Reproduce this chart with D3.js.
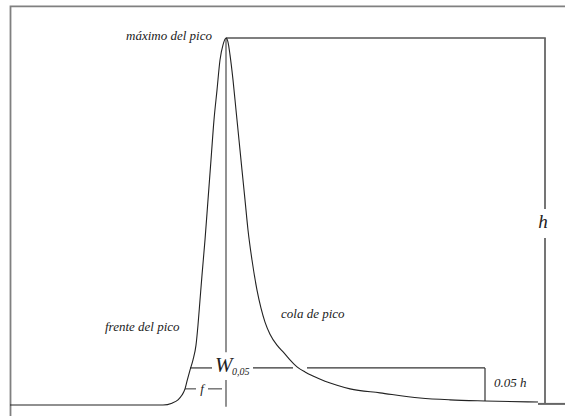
<!DOCTYPE html>
<html><head><meta charset="utf-8">
<script src="https://cdn.jsdelivr.net/npm/d3@7"></script>
<style>html,body{margin:0;padding:0;background:#fff;overflow:hidden}
.lbl{font-family:"Times New Roman",Times,"Liberation Serif","DejaVu Serif","Noto Serif",serif;font-style:italic}</style>
</head><body>
<svg id="c" width="565" height="416"></svg>
<script>
// Peak profile: time (arbitrary units) and signal (% of peak height h)
const frontTime   = [0, 153, 162, 168, 172, 175, 177, 180, 183, 186, 188, 190, 192, 195, 198, 201, 204, 207, 210, 213, 216];
const frontSignal = [0, 0, 0.5, 1.4, 2.7, 4.4, 6.5, 9.5, 12.3, 16.3, 21.8, 28.6, 35.4, 45.0, 55.9, 66.8, 77.7, 85.8, 94.0, 98.1, 100];
const tailTime    = [218, 220, 223, 226, 229, 232, 235, 238, 242, 247, 251, 255, 260, 267, 274, 280, 287, 295, 303, 315, 327, 340, 370, 410, 440, 475, 528];
const tailSignal  = [98.9, 95.4, 88.6, 80.4, 72.2, 64.0, 55.9, 47.7, 39.5, 31.3, 26.4, 22.6, 19.3, 16.3, 14.2, 12.3, 10.4, 9.0, 7.9, 6.5, 5.4, 4.4, 3.3, 1.9, 1.4, 1.1, 0.8];

// Annotation levels / positions (data units)
const peakTime = 216, peakHeight = 100;
const wLevel = 10.1, fLevel = 4.4;
const wRightTime = 475, hLineTime = 535;
const wSegments = [[180, 202], [243, 283], [297, 475]];
const fSegments = [[175, 186], [198, 212]];
const centerSegments = [[100, 14.4], [6.8, -0.5]];
const hSegments = [[100, 53.4], [45.5, 0.3]];
const labels = ["máximo del pico", "frente del pico", "cola de pico", "0.05 h", "h", "W", "0,05", "f"];

const svg = d3.select("#c");
const x = d3.scaleLinear().domain([0, 555]).range([10, 565]);
const y = d3.scaleLinear().domain([0, 100]).range([405, 38]);

// frame
svg.append("path")
  .attr("d", `M${x(0.5)},416 L${x(0.5)},${y(108.6)} L565,${y(108.6)}`)
  .attr("fill", "none").attr("stroke", "#808080").attr("stroke-width", 1.8);

const seg = (x1, y1, x2, y2, color, w) => svg.append("line")
  .attr("x1", x1).attr("y1", y1).attr("x2", x2).attr("y2", y2)
  .attr("stroke", color).attr("stroke-width", w);

// center vertical line
centerSegments.forEach(s => seg(x(peakTime), y(s[0]), x(peakTime), y(s[1]), "#777", 1.6));
// top horizontal
seg(x(peakTime), y(peakHeight), x(hLineTime) + 0.8, y(peakHeight), "#555", 1.5);
// h vertical
hSegments.forEach(s => seg(x(hLineTime), y(s[0]), x(hLineTime), y(s[1]), "#666", 1.8));
// bottom right base
seg(x(528), y(0.3), 565, y(0.3), "#666", 2);
// W line
wSegments.forEach(s => seg(x(s[0]), y(wLevel), x(s[1]), y(wLevel), "#333", 1.2));
seg(x(wRightTime), y(wLevel), x(wRightTime), y(1.1), "#333", 1.2);
// f line
fSegments.forEach(s => seg(x(s[0]), y(fLevel), x(s[1]), y(fLevel), "#444", 1.1));

// curve
const pts = frontTime.map((t, i) => [t, frontSignal[i]])
  .concat(tailTime.map((t, i) => [t, tailSignal[i]]));
svg.append("path").datum(pts)
  .attr("d", d3.line().x(d => x(d[0])).y(d => y(d[1])).curve(d3.curveMonotoneX))
  .attr("fill", "none").attr("stroke", "#222").attr("stroke-width", 1.1);

const txt = (s, px, py, size, anchor) => svg.append("text")
  .attr("class", "lbl")
  .attr("x", px).attr("y", py).attr("text-anchor", anchor || "start")
  .style("font-size", size + "px").attr("fill", "#222").text(s);

txt(labels[0], x(peakTime) - 14, y(peakHeight) + 2, 13, "end");
txt(labels[1], 105, y(20.2), 13);
txt(labels[2], 281, y(23.6), 13);
txt(labels[3], x(wRightTime) + 9, y(4.9), 13);
txt(labels[4], x(hLineTime) - 2, y(48.3), 19, "middle");
txt(labels[5], x(peakTime) - 11, y(9), 21);
txt(labels[6], x(peakTime) + 6, y(8.2), 10);
txt(labels[7], x(192), y(3.3), 13, "middle");
</script>
</body></html>
